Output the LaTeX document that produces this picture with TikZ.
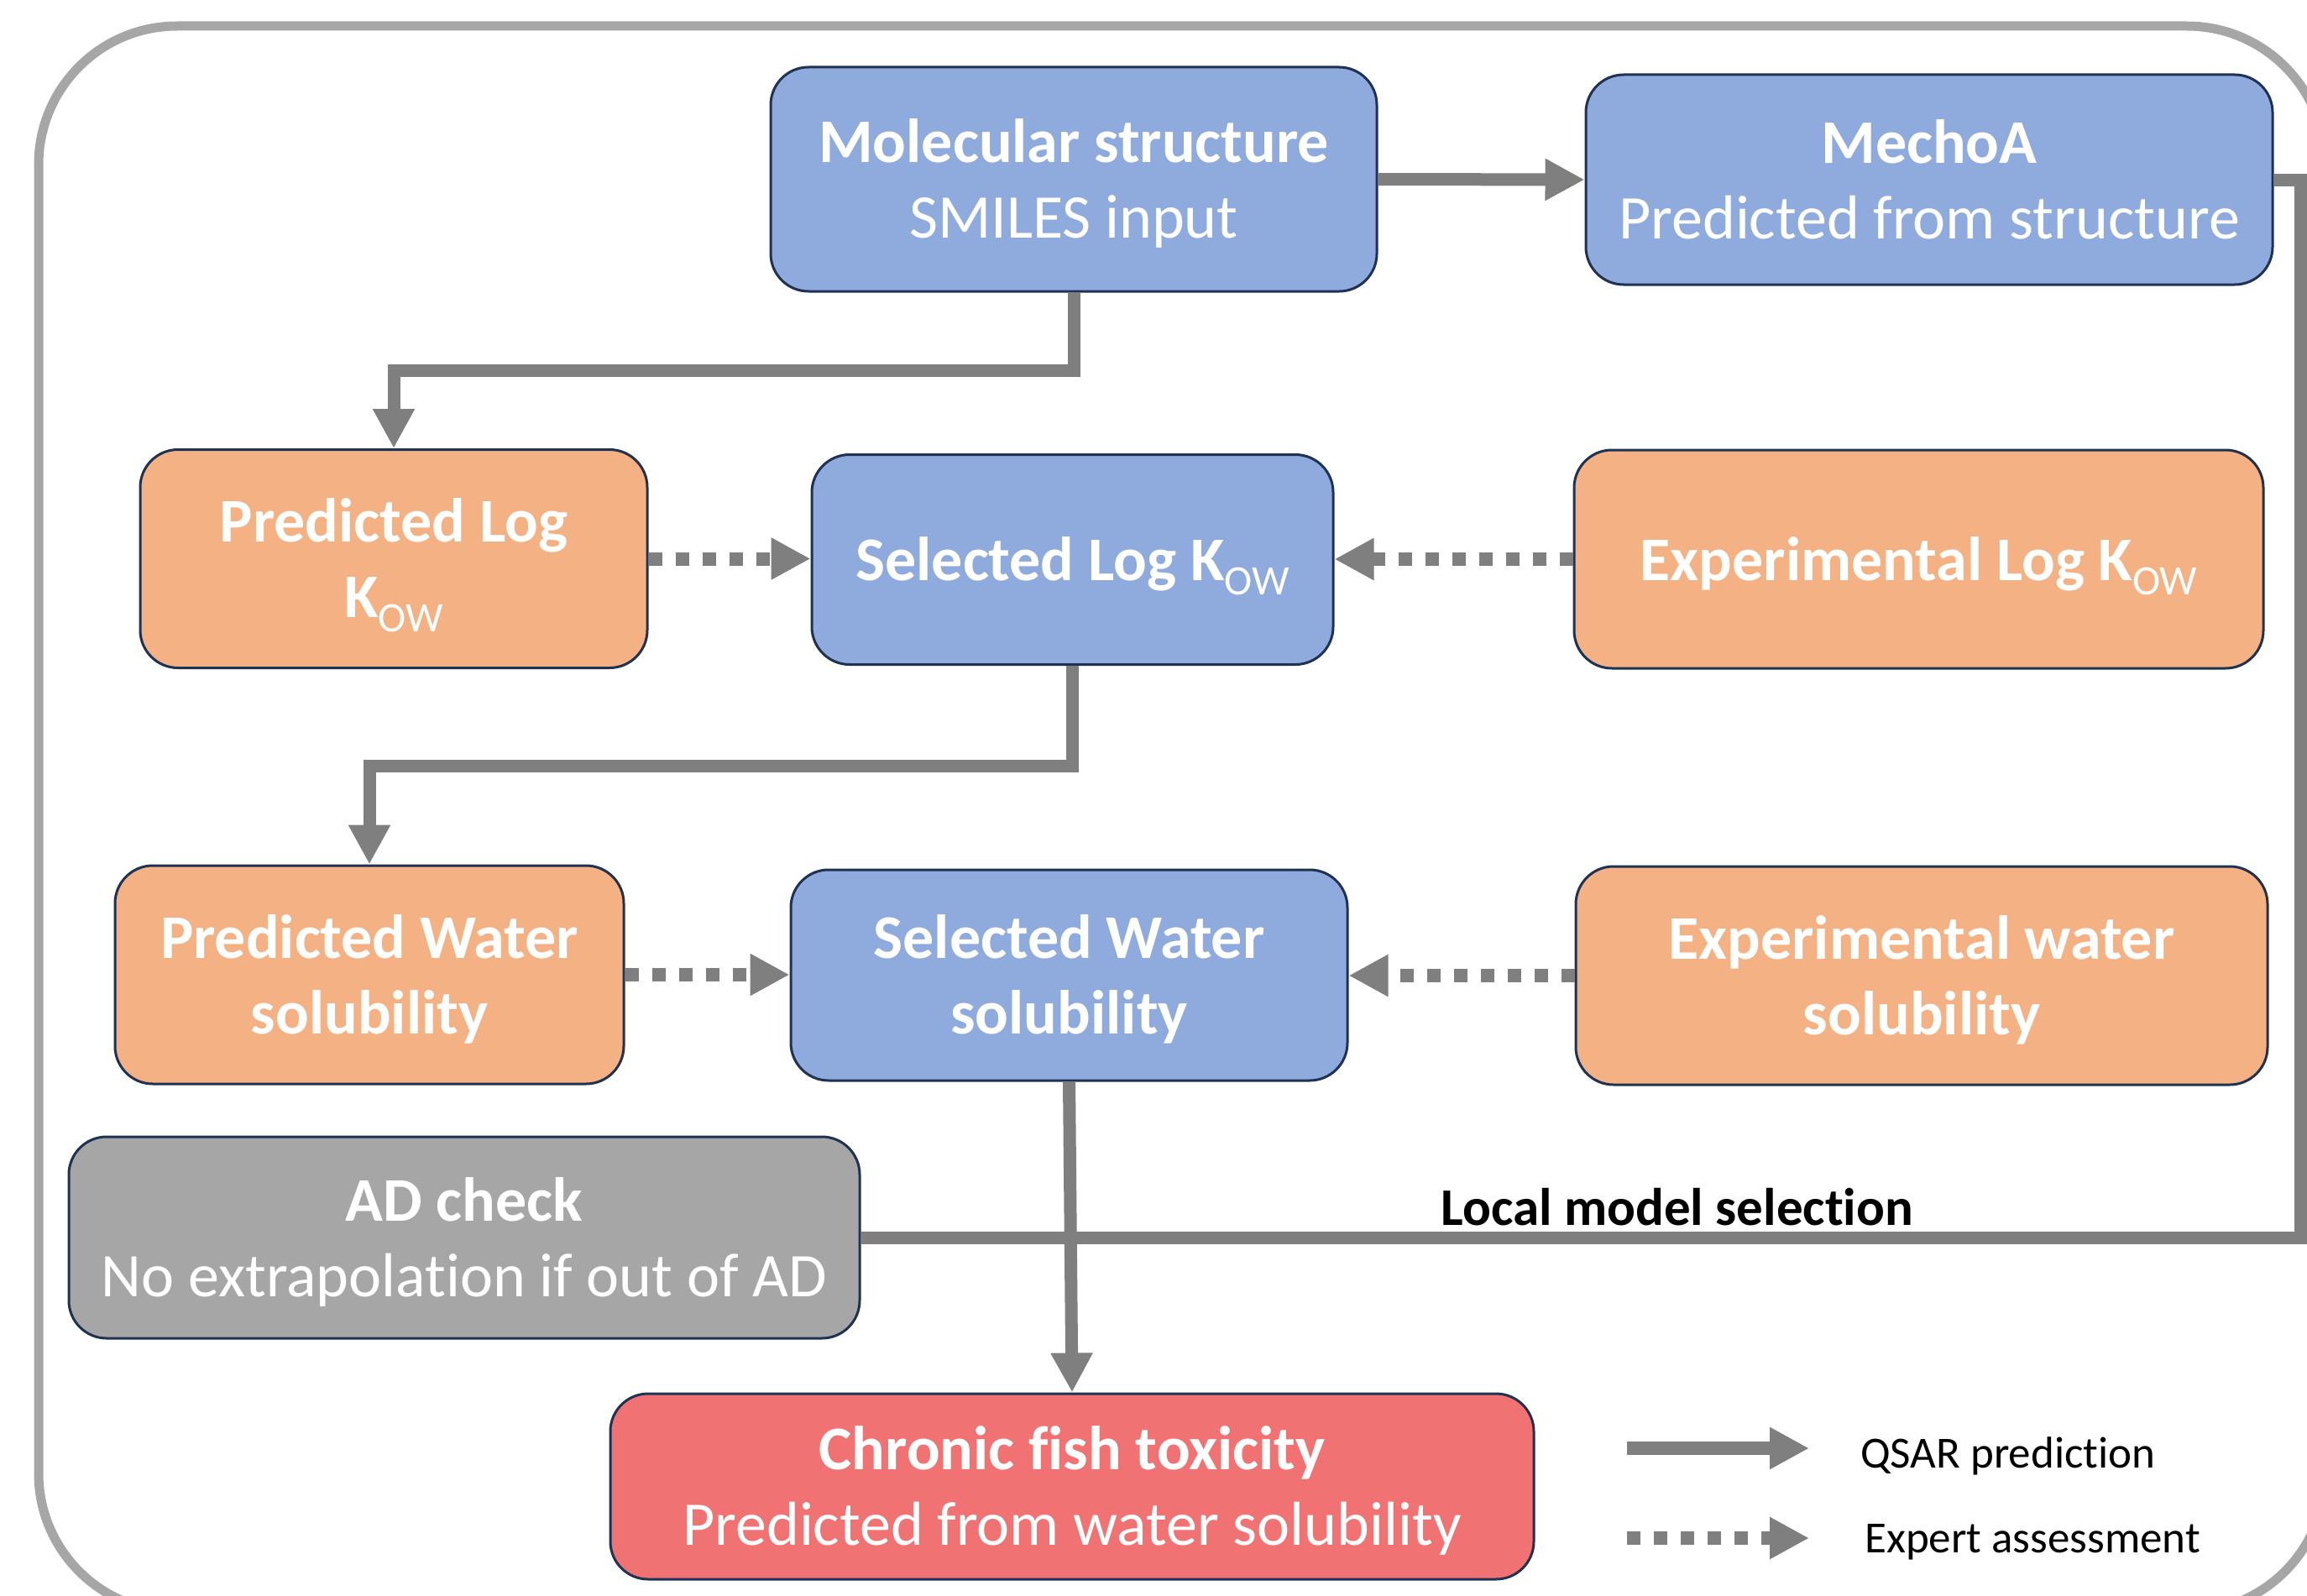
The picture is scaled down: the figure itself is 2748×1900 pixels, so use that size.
\documentclass[tikz,border=0pt]{standalone}
\usepackage{fontspec}
\setmainfont{Carlito}[Ligatures=NoCommon]
\usetikzlibrary{arrows.meta,calc}
\definecolor{bxblue}{HTML}{8FAADC}
\definecolor{bxorange}{HTML}{F4B183}
\definecolor{bxgray}{HTML}{A6A6A6}
\definecolor{bxred}{HTML}{F07272}
\definecolor{bxedge}{HTML}{1F3251}
\definecolor{lngray}{HTML}{7F7F7F}
\definecolor{frgray}{HTML}{A6A6A6}
\newcommand{\kow}{K\raisebox{-17pt}{\mdseries\fontsize{50}{50}\selectfont OW}}
\newcommand{\ls}{\rule[-20pt]{0pt}{90pt}}
\begin{document}
\begin{tikzpicture}[x=1pt,y=-1pt,
  box/.style={draw=bxedge, line width=3pt, rounded corners=45pt, inner sep=0pt,
    align=center, text=white, font=\fontsize{74}{90}\selectfont},
  bluebox/.style={box, fill=bxblue},
  orangebox/.style={box, fill=bxorange, font=\fontsize{74}{90}\selectfont\bfseries},
  graybox/.style={box, fill=bxgray},
  redbox/.style={box, fill=bxred},
  conn/.style={draw=lngray, line width=15pt},
  solidtip/.style={-{Triangle[length=47pt,width=47pt]}},
  dotconn/.style={draw=lngray, line width=16pt, dash pattern=on 16pt off 16pt,
    -{Triangle[length=47pt,width=47pt]}},
  lbl/.style={inner sep=0pt, text=black, font=\fontsize{63}{70}\selectfont\bfseries},
  legtext/.style={inner sep=0pt, text=black, font=\fontsize{53}{60}\selectfont},
]
\useasboundingbox (0,0) rectangle (2748,1900);
\begin{scope}
  \clip (0,0) rectangle (2748,1900);
  \draw[frgray, line width=11pt, rounded corners=165pt] (46,31) rectangle (2770,1920);
\end{scope}

% nodes
\node[bluebox, minimum width=722pt, minimum height=267pt] (mol) at (1279,213.5)
  {\ls{\bfseries Molecular structure}\\\ls SMILES input};
\node[bluebox, minimum width=818pt, minimum height=250pt] (mecho) at (2298,214)
  {\ls{\bfseries MechoA}\\\ls Predicted from structure};
\node[orangebox, minimum width=604pt, minimum height=260pt] (plk) at (469,665.5)
  {\ls Predicted Log\\\ls\kow};
\node[bluebox, minimum width=621pt, minimum height=250pt, font=\fontsize{74}{90}\selectfont\bfseries] (slk) at (1277.5,666.5)
  {\ls Selected Log \kow};
\node[orangebox, minimum width=821pt, minimum height=260pt] (elk) at (2285.5,666)
  {\ls Experimental Log \kow};
\node[orangebox, minimum width=606pt, minimum height=260pt] (pws) at (440,1161)
  {\ls Predicted Water\\\ls solubility};
\node[bluebox, minimum width=663pt, minimum height=251pt, font=\fontsize{74}{90}\selectfont\bfseries] (sws) at (1273.5,1161.5)
  {\ls Selected Water\\\ls solubility};
\node[orangebox, minimum width=824pt, minimum height=260pt] (ews) at (2289,1162)
  {\ls Experimental water\\\ls solubility};
\node[graybox, minimum width=942pt, minimum height=240pt] (ad) at (553,1474)
  {\ls{\bfseries AD check}\\\ls No extrapolation if out of AD};
\node[redbox, minimum width=1100pt, minimum height=221pt] (chronic) at (1277,1770.5)
  {\ls{\bfseries Chronic fish toxicity}\\\ls Predicted from water solubility};

% connectors
\draw[conn,solidtip] (mol.east) -- (mecho.west);
\draw[conn,solidtip] (mol.south) -- ++(0,93) -| (plk.north);
\draw[conn,solidtip] (slk.south) -- ++(0,119) -| (pws.north);
\draw[dotconn] (plk.east) -- (plk.east -| slk.west);
\draw[dotconn] (elk.west) -- (elk.west -| slk.east);
\draw[dotconn] (pws.east) -- (pws.east -| sws.west);
\draw[dotconn] (ews.west) -- (ews.west -| sws.east);
\coordinate (rc) at (2740,1474);
\draw[conn] (mecho.east) -- (mecho.east -| rc) -- (rc) -- (ad.east);
\node[lbl, anchor=base] (lms) at (1998,1459) {Local model selection};
\draw[conn,solidtip] (sws.south) -- (chronic.north);

% legend
\coordinate (q0) at (1938,1725);
\coordinate (q1) at (2155,1725);
\draw[conn,solidtip,line width=16pt] (q0) -- (q1);
\coordinate (e0) at (1938,1832);
\coordinate (e1) at (2155,1832);
\draw[dotconn] (e0) -- (e1);
\node[legtext, anchor=base west] (lq) at (2216,1748) {QSAR prediction};
\node[legtext, anchor=base west] (le) at (2221,1849) {Expert assessment};
\end{tikzpicture}
\end{document}
